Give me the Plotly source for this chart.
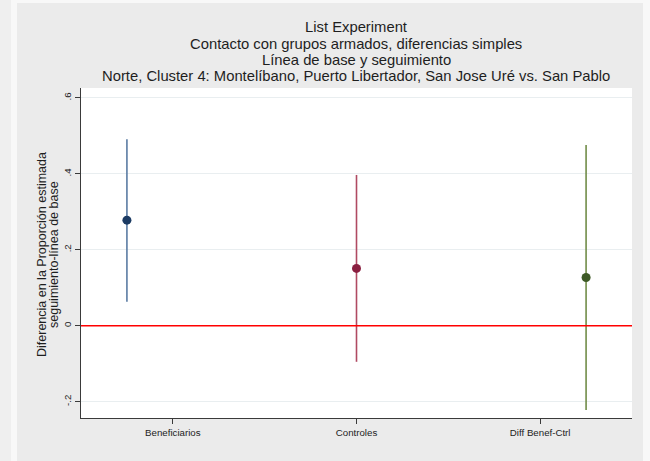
import plotly.graph_objects as go

# ---- data ----
categories = ["Beneficiarios", "Controles", "Diff Benef-Ctrl"]
x_pos = [1, 2, 3]
tick_pos = [1.2, 2.0, 2.8]
estimates = [0.278, 0.151, 0.127]
ci_upper = [0.491, 0.397, 0.476]
ci_lower = [0.063, -0.095, -0.222]
y_tickvals = [-0.2, 0, 0.2, 0.4, 0.6]
y_ticktext = ["-.2", "0", ".2", ".4", ".6"]
title_lines = [
    "List Experiment",
    "Contacto con grupos armados, diferencias simples",
    "Línea de base y seguimiento",
    "Norte, Cluster 4: Montelíbano, Puerto Libertador, San Jose Uré vs. San Pablo",
]
ytitle_lines = ["Diferencia en la Proporción estimada", "seguimiento-línea de base"]

marker_colors = ["#1c3b63", "#8a1f40", "#3e5a26"]
line_colors = ["#5a7ba3", "#b04a62", "#718c48"]

FONT = "Liberation Sans, Arial, Helvetica, sans-serif"

# plot area in pixels
W, H = 650, 461
L, R, T, B = 81, 632, 88, 418

def px_x(px):
    return (px - L) / (R - L)

def px_y(py):
    return (B - py) / (B - T)

fig = go.Figure()
for i, cat in enumerate(categories):
    fig.add_trace(go.Scatter(
        x=[x_pos[i]], y=[estimates[i]],
        mode="markers",
        name=cat,
        marker=dict(color=marker_colors[i], size=9),
        error_y=dict(
            type="data", symmetric=False,
            array=[ci_upper[i] - estimates[i]],
            arrayminus=[estimates[i] - ci_lower[i]],
            color=line_colors[i], thickness=1.6, width=0,
        ),
        showlegend=False,
    ))

# red reference line at zero
fig.add_shape(type="line", xref="paper", x0=0, x1=1, yref="y", y0=0, y1=0,
              line=dict(color="#ff0000", width=1.5), layer="above")

# background strips
fig.add_shape(type="rect", xref="paper", yref="paper",
              x0=px_x(0), x1=px_x(11), y0=px_y(W * 2), y1=px_y(-10),
              fillcolor="#efefef", line=dict(width=0), layer="below")
fig.add_shape(type="rect", xref="paper", yref="paper",
              x0=px_x(11), x1=px_x(17), y0=px_y(W * 2), y1=px_y(-10),
              fillcolor="#f8f8f8", line=dict(width=0), layer="below")
fig.add_shape(type="rect", xref="paper", yref="paper",
              x0=px_x(17), x1=px_x(W + 10), y0=px_y(W * 2), y1=px_y(0),
              fillcolor="#f8f8f8", line=dict(width=0), layer="below")
fig.add_shape(type="rect", xref="paper", yref="paper",
              x0=px_x(17), x1=px_x(643), y0=px_y(H + 10), y1=px_y(3),
              fillcolor="#ebebeb", line=dict(width=0), layer="below")
fig.add_shape(type="rect", xref="paper", yref="paper",
              x0=0, x1=1, y0=0, y1=1,
              fillcolor="#ffffff", line=dict(width=0), layer="below")

# title lines
title_y = [27, 43.5, 60, 76.5]
for txt, py in zip(title_lines, title_y):
    fig.add_annotation(text=txt, xref="paper", yref="paper",
                       x=px_x(356), y=px_y(py), xanchor="center", yanchor="middle",
                       showarrow=False, font=dict(family=FONT, size=14.8, color="#1e1e1e"))

# y axis title lines
for txt, pxx in zip(ytitle_lines, [42, 54]):
    fig.add_annotation(text=txt, xref="paper", yref="paper",
                       x=px_x(pxx), y=px_y(255), xanchor="center", yanchor="middle",
                       textangle=-90, showarrow=False,
                       font=dict(family=FONT, size=12.5, color="#1e1e1e"))

fig.update_layout(
    width=W, height=H,
    margin=dict(l=L, r=W - R, t=T, b=H - B),
    paper_bgcolor="#ebebeb",
    plot_bgcolor="rgba(0,0,0,0)",
    font=dict(family=FONT, color="#1e1e1e"),
)
fig.update_xaxes(
    range=[0.8, 3.2], tickmode="array", tickvals=tick_pos, ticktext=categories,
    showgrid=False, zeroline=False, showline=True, linecolor="#3a3a3a", linewidth=1,
    ticks="outside", ticklen=5, tickcolor="#3a3a3a",
    tickfont=dict(family=FONT, size=9.7, color="#222"),
)
fig.update_yaxes(
    range=[-0.243, 0.626], tickmode="array", tickvals=y_tickvals, ticktext=y_ticktext,
    tickangle=-90,
    showgrid=True, gridcolor="#e9eef0", gridwidth=1, zeroline=False,
    showline=True, linecolor="#3a3a3a", linewidth=1,
    ticks="outside", ticklen=5, tickcolor="#3a3a3a",
    tickfont=dict(family=FONT, size=9.7, color="#222"),
)

fig.write_html(
    "out.html",
    config={"displayModeBar": False},
    post_script="document.body.style.margin='0';document.body.style.padding='0';"
                "document.body.style.overflow='hidden';"
                "document.body.style.background='#efefef';",
)
